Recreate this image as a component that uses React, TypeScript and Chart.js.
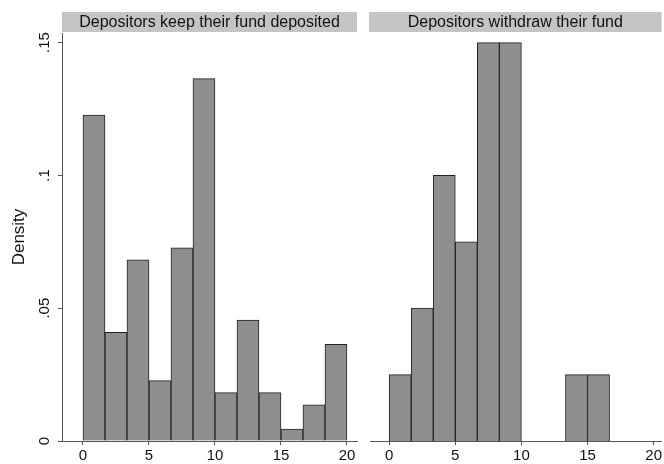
import React, { useEffect, useRef } from "react";
import { Chart, registerables } from "chart.js";
Chart.register(...registerables);

const panelTitles = ["Depositors keep their fund deposited", "Depositors withdraw their fund"];
const binEdges = [0, 1.6667, 3.3333, 5, 6.6667, 8.3333, 10, 11.6667, 13.3333, 15, 16.6667, 18.3333, 20];
const keepDensity = [0.1227, 0.0409, 0.0682, 0.0227, 0.0727, 0.1364, 0.0182, 0.0455, 0.0182, 0.0045, 0.0136, 0.0364];
const withdrawDensity = [0.025, 0.05, 0.1, 0.075, 0.15, 0.15, 0, 0, 0.025, 0.025, 0, 0];
const xTicks = [0, 5, 10, 15, 20];
const yTicks = [0, 0.05, 0.1, 0.15];
const yTickLabels = ["0", ".05", ".1", ".15"];
const yAxisTitle = "Density";

const FONT = '"Liberation Sans", Arial, Helvetica, sans-serif';
const AXIS = "#555555";
const TEXT = "#111111";

const stripPlugin = {
  id: "strip",
  beforeDraw(chart: any, _args: any, opts: any) {
    const { ctx, chartArea } = chart;
    const left = chartArea.left + (opts.dx || 0);
    const right = chartArea.right;
    ctx.save();
    ctx.fillStyle = "#c4c4c4";
    ctx.fillRect(left, 12, right - left, 20);
    ctx.fillStyle = TEXT;
    ctx.font = "16px " + FONT;
    ctx.textAlign = "center";
    ctx.textBaseline = "middle";
    ctx.fillText(opts.text, (left + right) / 2, 22.5);
    ctx.restore();
  },
};

function makeChart(canvas: HTMLCanvasElement, cfg: any) {
  const data = cfg.values
    .map((v: number, i: number) => ({ x: (binEdges[i] + binEdges[i + 1]) / 2, y: v }))
    .filter((d: any) => d.y > 0);
  return new Chart(canvas, {
    type: "bar",
    data: {
      datasets: [
        {
          data,
          backgroundColor: "#8e8e8e",
          borderColor: "#222222",
          borderWidth: 1,
          barPercentage: 1,
          categoryPercentage: 1,
        } as any,
      ],
    },
    plugins: [stripPlugin as any],
    options: {
      animation: false,
      responsive: false,
      maintainAspectRatio: false,
      layout: { padding: cfg.padding },
      plugins: {
        legend: { display: false },
        tooltip: { enabled: false },
        strip: { text: cfg.title, dx: cfg.stripDx },
      } as any,
      scales: {
        x: {
          type: "linear",
          offset: false,
          min: cfg.xMin,
          max: cfg.xMax,
          afterBuildTicks: (s: any) => {
            s.ticks = xTicks.map((v) => ({ value: v }));
          },
          afterFit: (s: any) => {
            s.height = 23;
          },
          grid: { offset: false, drawOnChartArea: false, drawTicks: true, tickLength: 4, color: AXIS, lineWidth: 1 },
          border: { display: true, color: AXIS, width: 1 },
          ticks: {
            padding: 2,
            autoSkip: false,
            maxRotation: 0,
            color: TEXT,
            font: { family: FONT, size: 15 },
          },
        },
        y: {
          type: "linear",
          display: cfg.showY,
          min: 0,
          max: 0.1536,
          afterBuildTicks: (s: any) => {
            s.ticks = yTicks.map((v) => ({ value: v }));
          },
          afterFit: (s: any) => {
            s.width = cfg.showY ? 62 : 0;
          },
          grid: { drawOnChartArea: false, drawTicks: true, tickLength: 4, color: AXIS, lineWidth: 1 },
          border: { display: true, color: AXIS, width: 1 },
          ticks: {
            minRotation: 90,
            maxRotation: 90,
            crossAlign: "center",
            padding: 3,
            color: TEXT,
            font: { family: FONT, size: 15 },
            callback: (v: any) => {
              const i = yTicks.findIndex((t) => Math.abs(t - Number(v)) < 1e-9);
              return i >= 0 ? yTickLabels[i] : "";
            },
          },
          title: {
            display: true,
            text: yAxisTitle,
            color: TEXT,
            font: { family: FONT, size: 17 },
            padding: { top: 9, bottom: 0 },
          },
        },
      },
    } as any,
  });
}

export default function App() {
  const leftRef = useRef<HTMLCanvasElement>(null);
  const rightRef = useRef<HTMLCanvasElement>(null);

  useEffect(() => {
    document.body.style.margin = "0";
    const c1 = makeChart(leftRef.current!, {
      title: panelTitles[0],
      values: keepDensity,
      showY: true,
      xMin: -1.59,
      xMax: 20.76,
      padding: { left: 0, top: 33, right: 3, bottom: 0 },
      stripDx: 0,
    });
    const c2 = makeChart(rightRef.current!, {
      title: panelTitles[1],
      values: withdrawDensity,
      showY: false,
      xMin: -1.45,
      xMax: 20.6,
      padding: { left: 10, top: 33, right: 1, bottom: 0 },
      stripDx: -1,
    });
    return () => {
      c1.destroy();
      c2.destroy();
    };
  }, []);

  return (
    <div style={{ position: "relative", width: 664, height: 464, background: "#ffffff" }}>
      <canvas ref={leftRef} width={360} height={464} style={{ position: "absolute", left: 0, top: 0 }} />
      <canvas ref={rightRef} width={304} height={464} style={{ position: "absolute", left: 360, top: 0 }} />
    </div>
  );
}
